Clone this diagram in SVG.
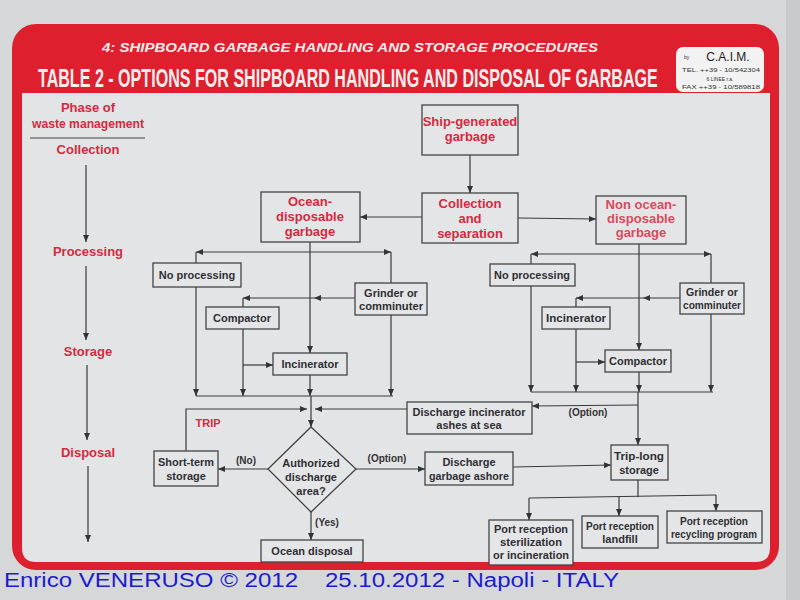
<svg xmlns="http://www.w3.org/2000/svg" width="800" height="600" viewBox="0 0 800 600">
<defs>
<marker id="ah" markerUnits="userSpaceOnUse" markerWidth="8" markerHeight="7" refX="7" refY="3.5" orient="auto"><path d="M0,0.5 L7,3.5 L0,6.5 Z" fill="#333"/></marker>
<style>
.bx{fill:#e4e5e7;stroke:#444;stroke-width:1.3}
.t{font-family:"Liberation Sans",Arial,sans-serif;font-weight:bold;font-size:11px;fill:#2f2f33;text-anchor:middle}
.r{font-family:"Liberation Sans",Arial,sans-serif;font-weight:bold;font-size:13px;fill:#d42a40;text-anchor:middle}
.lb{font-family:"Liberation Sans",Arial,sans-serif;font-weight:bold;font-size:10px;fill:#333;text-anchor:middle}
.ln{fill:none;stroke:#3a3a3c;stroke-width:1.2}
.la{fill:none;stroke:#3a3a3c;stroke-width:1.2;marker-end:url(#ah)}
.c{font-family:"Liberation Sans",Arial,sans-serif;font-size:5px;fill:#333}
</style>
</defs>
<rect x="0" y="0" width="800" height="600" fill="#d6d7d9"/>
<rect x="786" y="0" width="14" height="600" fill="#c9cacc"/>
<!-- frame -->
<rect x="12" y="24" width="767" height="546" rx="24" fill="#de1f2d"/>
<path d="M22,93 H770 V548 Q770,562 756,562 H36 Q22,562 22,548 Z" fill="#e3e4e6"/>
<!-- header -->
<text x="350" y="52" font-family="'Liberation Sans',Arial,sans-serif" font-weight="bold" font-style="italic" font-size="13" fill="#f6eeee" text-anchor="middle" textLength="496" lengthAdjust="spacingAndGlyphs">4: SHIPBOARD GARBAGE HANDLING AND STORAGE PROCEDURES</text>
<text transform="translate(38,87) scale(0.6,1)" x="0" y="0" font-family="'Liberation Sans',Arial,sans-serif" font-weight="bold" font-size="26" fill="#f6eeee" textLength="1033" lengthAdjust="spacingAndGlyphs">TABLE 2 - OPTIONS FOR SHIPBOARD HANDLING AND DISPOSAL OF GARBAGE</text>
<g id="caim">
<rect x="676" y="47" width="88" height="45" rx="7" fill="#f2f2f2"/>
<text class="c" x="684" y="59">by</text>
<text x="728" y="61" font-family="'Liberation Sans',Arial,sans-serif" font-size="12" fill="#222" text-anchor="middle">C.A.I.M.</text>
<text class="c" x="682" y="72" textLength="78" lengthAdjust="spacingAndGlyphs">TEL. ++39 - 10/542304</text>
<text class="c" x="720" y="80.5" text-anchor="middle">6 LINEE r.a.</text>
<text class="c" x="682" y="89" textLength="78" lengthAdjust="spacingAndGlyphs">FAX ++39 - 10/589818</text>
</g>
<!-- phases -->
<g id="phases">
<text class="r" x="88" y="112">Phase of</text>
<text class="r" x="88" y="128" textLength="112" lengthAdjust="spacingAndGlyphs">waste management</text>
<line x1="30" y1="138" x2="145" y2="138" stroke="#444" stroke-width="1.2"/>
<text class="r" x="88" y="154">Collection</text>
<text class="r" x="88" y="256">Processing</text>
<text class="r" x="88" y="356">Storage</text>
<text class="r" x="88" y="457">Disposal</text>
</g>
<g id="connectors">
<line class="la" x1="86" y1="165" x2="86" y2="242"/>
<line class="la" x1="86" y1="266" x2="86" y2="340"/>
<line class="la" x1="87" y1="365" x2="87" y2="440"/>
<line class="la" x1="88" y1="466" x2="88" y2="542"/>
<line class="la" x1="470" y1="155" x2="470" y2="193"/>
<line class="la" x1="422" y1="217" x2="360" y2="217"/>
<line class="la" x1="518" y1="218" x2="596" y2="219"/>
<line class="la" x1="310" y1="252" x2="196" y2="252"/>
<line class="la" x1="310" y1="252" x2="391" y2="252"/>
<line class="ln" x1="196" y1="252" x2="196" y2="263"/>
<line class="ln" x1="391" y1="252" x2="391" y2="283"/>
<line class="la" x1="310" y1="242" x2="310" y2="353"/>
<line class="la" x1="355" y1="298" x2="314" y2="298"/>
<line class="la" x1="314" y1="298" x2="243" y2="298"/>
<line class="ln" x1="243" y1="298" x2="243" y2="307"/>
<line class="la" x1="243" y1="329" x2="243" y2="396"/>
<line class="la" x1="243" y1="365" x2="273" y2="365"/>
<line class="la" x1="196" y1="287" x2="196" y2="396"/>
<line class="la" x1="310" y1="375" x2="310" y2="396"/>
<line class="la" x1="391" y1="315" x2="391" y2="396"/>
<line class="ln" x1="196" y1="396" x2="393" y2="396"/>
<line class="la" x1="311" y1="396" x2="311" y2="427"/>
<polyline class="la" points="186,451 186,409 307,409"/>
<line class="la" x1="407" y1="409" x2="315" y2="409"/>
<line class="la" x1="639" y1="254" x2="531" y2="254"/>
<line class="la" x1="639" y1="254" x2="711" y2="254"/>
<line class="ln" x1="531" y1="254" x2="531" y2="264"/>
<line class="ln" x1="711" y1="254" x2="711" y2="283"/>
<line class="la" x1="639" y1="244" x2="639" y2="350"/>
<line class="la" x1="680" y1="298" x2="643" y2="298"/>
<line class="la" x1="643" y1="298" x2="576" y2="298"/>
<line class="ln" x1="576" y1="298" x2="576" y2="307"/>
<line class="la" x1="576" y1="329" x2="576" y2="392"/>
<line class="la" x1="576" y1="362" x2="605" y2="362"/>
<line class="la" x1="531" y1="286" x2="531" y2="392"/>
<line class="la" x1="639" y1="372" x2="639" y2="392"/>
<line class="la" x1="711" y1="314" x2="711" y2="392"/>
<line class="ln" x1="531" y1="392" x2="713" y2="392"/>
<line class="la" x1="638" y1="392" x2="638" y2="445"/>
<line class="la" x1="638" y1="405" x2="532" y2="406"/>
<text class="lb" x="588" y="416">(Option)</text>
<line class="la" x1="268" y1="469" x2="218" y2="469"/>
<text class="lb" x="246" y="464">(No)</text>
<line class="la" x1="356" y1="469" x2="425" y2="469"/>
<text class="lb" x="387" y="462">(Option)</text>
<line class="la" x1="311" y1="512" x2="311" y2="540"/>
<text class="lb" x="327" y="526">(Yes)</text>
<line class="la" x1="513" y1="467" x2="611" y2="465"/>
<line class="ln" x1="638" y1="480" x2="638" y2="497"/>
<line class="ln" x1="529" y1="498" x2="716" y2="495"/>
<line class="la" x1="529" y1="498" x2="529" y2="520"/>
<line class="la" x1="619" y1="497" x2="619" y2="516"/>
<line class="la" x1="716" y1="495" x2="716" y2="511"/>
</g>
<text x="208" y="427" font-family="'Liberation Sans',Arial,sans-serif" font-weight="bold" font-size="11" fill="#d42a40" text-anchor="middle">TRIP</text>
<g id="ship"><rect class="bx" x="422" y="105" width="96" height="50"/><text class="r" x="470" y="126">Ship-generated</text><text class="r" x="470" y="141">garbage</text></g>
<g id="collect"><rect class="bx" x="422" y="193" width="96" height="50"/><text class="r" x="470" y="208">Collection</text><text class="r" x="470" y="223">and</text><text class="r" x="470" y="238">separation</text></g>
<g id="ocean"><rect class="bx" x="261" y="192" width="99" height="50"/><text class="r" x="310" y="206">Ocean-</text><text class="r" x="310" y="221">disposable</text><text class="r" x="310" y="236">garbage</text></g>
<g id="nonocean"><rect class="bx" x="596" y="196" width="90" height="48"/><text class="r" x="641" y="209" style="fill:#d84a5c">Non ocean-</text><text class="r" x="641" y="223" style="fill:#d84a5c">disposable</text><text class="r" x="641" y="237" style="fill:#d84a5c">garbage</text></g>
<g id="noproc1"><rect class="bx" x="153" y="263" width="88" height="24"/><text class="t" x="197" y="279">No processing</text></g>
<g id="grind1"><rect class="bx" x="355" y="283" width="72" height="32"/><text class="t" x="391" y="297">Grinder or</text><text class="t" x="391" y="310" textLength="64" lengthAdjust="spacingAndGlyphs">comminuter</text></g>
<g id="compact1"><rect class="bx" x="206" y="307" width="73" height="22"/><text class="t" x="242" y="322">Compactor</text></g>
<g id="incin1"><rect class="bx" x="273" y="353" width="74" height="22"/><text class="t" x="310" y="368">Incinerator</text></g>
<g id="noproc2"><rect class="bx" x="490" y="264" width="85" height="22"/><text class="t" x="532" y="279" textLength="76" lengthAdjust="spacingAndGlyphs">No processing</text></g>
<g id="grind2"><rect class="bx" x="680" y="283" width="64" height="31"/><text class="t" x="712" y="296" textLength="52" lengthAdjust="spacingAndGlyphs">Grinder or</text><text class="t" x="712" y="309" textLength="58" lengthAdjust="spacingAndGlyphs">comminuter</text></g>
<g id="incin2"><rect class="bx" x="542" y="307" width="68" height="22"/><text class="t" x="576" y="322" textLength="60" lengthAdjust="spacingAndGlyphs">Incinerator</text></g>
<g id="compact2"><rect class="bx" x="605" y="350" width="66" height="22"/><text class="t" x="638" y="365" textLength="58" lengthAdjust="spacingAndGlyphs">Compactor</text></g>
<g id="ashes"><rect class="bx" x="407" y="402" width="125" height="32"/><text class="t" x="469" y="416">Discharge incinerator</text><text class="t" x="469" y="429">ashes at sea</text></g>
<g id="decision"><polygon class="bx" points="311,427 356,469 311,512 268,469"/><text class="t" x="311" y="467">Authorized</text><text class="t" x="311" y="481">discharge</text><text class="t" x="311" y="495">area?</text></g>
<g id="shortterm"><rect class="bx" x="154" y="451" width="64" height="35"/><text class="t" x="186" y="466" textLength="56" lengthAdjust="spacingAndGlyphs">Short-term</text><text class="t" x="186" y="480">storage</text></g>
<g id="ashore"><rect class="bx" x="425" y="452" width="88" height="33"/><text class="t" x="469" y="466">Discharge</text><text class="t" x="469" y="480" textLength="80" lengthAdjust="spacingAndGlyphs">garbage ashore</text></g>
<g id="triplong"><rect class="bx" x="611" y="445" width="57" height="35"/><text class="t" x="639" y="460" textLength="50" lengthAdjust="spacingAndGlyphs">Trip-long</text><text class="t" x="639" y="474">storage</text></g>
<g id="oceandisp"><rect class="bx" x="261" y="540" width="102" height="22"/><text class="t" x="312" y="555">Ocean disposal</text></g>
<g id="port1"><rect class="bx" x="489" y="520" width="84" height="45"/><text class="t" x="531" y="533" textLength="74" lengthAdjust="spacingAndGlyphs">Port reception</text><text class="t" x="531" y="546" textLength="62" lengthAdjust="spacingAndGlyphs">sterilization</text><text class="t" x="531" y="559" textLength="76" lengthAdjust="spacingAndGlyphs">or incineration</text></g>
<g id="port2"><rect class="bx" x="582" y="516" width="76" height="32"/><text class="t" x="620" y="530" textLength="68" lengthAdjust="spacingAndGlyphs">Port reception</text><text class="t" x="620" y="543">landfill</text></g>
<g id="port3"><rect class="bx" x="667" y="511" width="95" height="32"/><text class="t" x="714" y="525" textLength="68" lengthAdjust="spacingAndGlyphs">Port reception</text><text class="t" x="714" y="538" textLength="86" lengthAdjust="spacingAndGlyphs">recycling program</text></g>
<g id="watermark" font-family="'Liberation Sans',Arial,sans-serif" font-size="20" fill="#1c1ccf">
<text x="4" y="587" textLength="294" lengthAdjust="spacingAndGlyphs">Enrico VENERUSO © 2012</text>
<text x="325" y="587" textLength="294" lengthAdjust="spacingAndGlyphs">25.10.2012 - Napoli - ITALY</text>
</g>
</svg>
